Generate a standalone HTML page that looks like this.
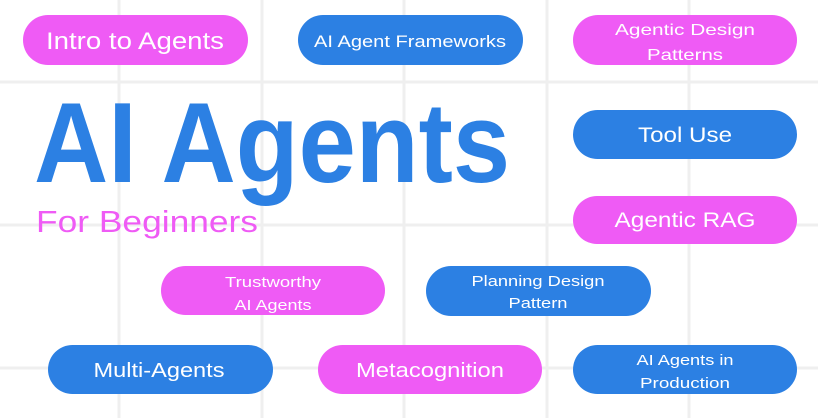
<!DOCTYPE html>
<html><head><meta charset="utf-8"><style>
html,body{margin:0;padding:0;background:#fff;width:833px;height:418px;overflow:hidden}
svg{display:block}
text{font-family:"Liberation Sans",sans-serif;fill:#fff}
</style></head><body>
<svg width="833" height="418" viewBox="0 0 833 418">
<g stroke="#efefef" stroke-width="3">
<line x1="119" y1="0" x2="119" y2="418"/><line x1="262" y1="0" x2="262" y2="418"/>
<line x1="404" y1="0" x2="404" y2="418"/><line x1="547" y1="0" x2="547" y2="418"/>
<line x1="689" y1="0" x2="689" y2="418"/>
<line x1="0" y1="82" x2="818" y2="82"/><line x1="0" y1="225" x2="818" y2="225"/>
<line x1="0" y1="368" x2="818" y2="368"/>
</g>
<g>
<rect x="23" y="15" width="225" height="50" rx="25" fill="#ef5bf5"/>
<rect x="298" y="15" width="225" height="50" rx="25" fill="#2c80e3"/>
<rect x="573" y="15" width="224" height="50" rx="25" fill="#ef5bf5"/>
<rect x="573" y="110" width="224" height="49" rx="24.5" fill="#2c80e3"/>
<rect x="573" y="196" width="224" height="48" rx="24" fill="#ef5bf5"/>
<rect x="161" y="266" width="224" height="49" rx="24.5" fill="#ef5bf5"/>
<rect x="426" y="266" width="225" height="50" rx="25" fill="#2c80e3"/>
<rect x="48" y="345" width="225" height="49" rx="24.5" fill="#2c80e3"/>
<rect x="318" y="345" width="224" height="49" rx="24.5" fill="#ef5bf5"/>
<rect x="573" y="345" width="224" height="49" rx="24.5" fill="#2c80e3"/>
</g>
<g text-anchor="middle">
<text x="135" y="49" font-size="24" textLength="178" lengthAdjust="spacingAndGlyphs">Intro to Agents</text>
<text x="410" y="47" font-size="17" textLength="192" lengthAdjust="spacingAndGlyphs">AI Agent Frameworks</text>
<text x="685" y="35" font-size="16" textLength="140" lengthAdjust="spacingAndGlyphs">Agentic Design</text>
<text x="685" y="60" font-size="16" textLength="76" lengthAdjust="spacingAndGlyphs">Patterns</text>
<text x="685" y="142" font-size="21" textLength="94" lengthAdjust="spacingAndGlyphs">Tool Use</text>
<text x="685" y="227" font-size="21" textLength="141" lengthAdjust="spacingAndGlyphs">Agentic RAG</text>
<text x="273" y="287" font-size="15" textLength="96" lengthAdjust="spacingAndGlyphs">Trustworthy</text>
<text x="273" y="310" font-size="15" textLength="77" lengthAdjust="spacingAndGlyphs">AI Agents</text>
<text x="538" y="286" font-size="15" textLength="133" lengthAdjust="spacingAndGlyphs">Planning Design</text>
<text x="538" y="308" font-size="15" textLength="59" lengthAdjust="spacingAndGlyphs">Pattern</text>
<text x="159" y="377" font-size="20" textLength="131" lengthAdjust="spacingAndGlyphs">Multi-Agents</text>
<text x="430" y="377" font-size="20" textLength="148" lengthAdjust="spacingAndGlyphs">Metacognition</text>
<text x="685" y="365" font-size="15" textLength="97" lengthAdjust="spacingAndGlyphs">AI Agents in</text>
<text x="685" y="388" font-size="15" textLength="90" lengthAdjust="spacingAndGlyphs">Production</text>
</g>
<text x="34" y="182" font-size="114" font-weight="bold" style="fill:#2c80e3" textLength="476" lengthAdjust="spacingAndGlyphs">AI Agents</text>
<text x="36" y="232" font-size="31" style="fill:#ef5bf5" textLength="222" lengthAdjust="spacingAndGlyphs">For Beginners</text>
</svg>
</body></html>
